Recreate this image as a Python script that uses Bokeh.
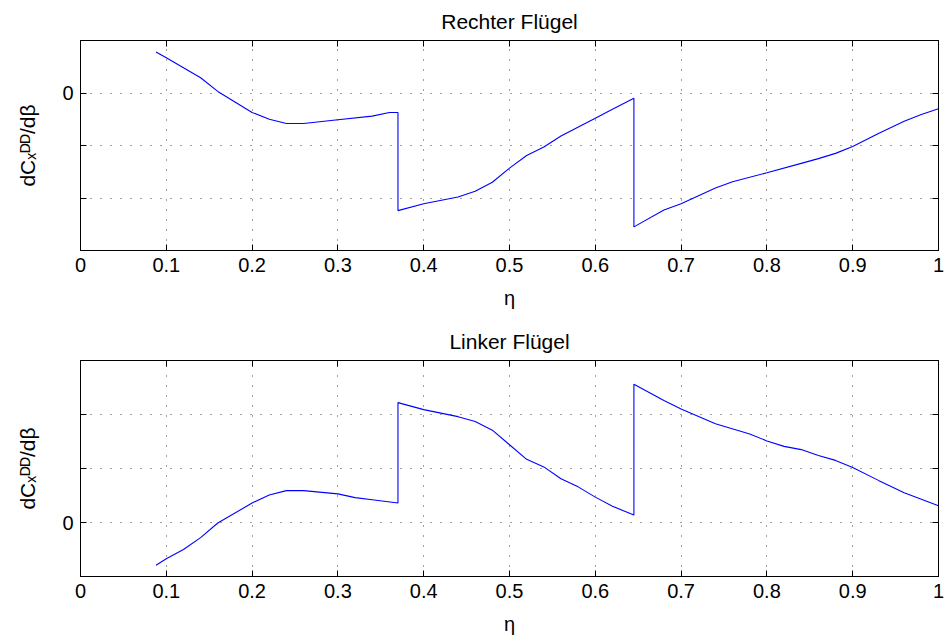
import numpy as np
from bokeh.plotting import figure
from bokeh.layouts import column
from bokeh.models import LinearAxis, FixedTicker, Range1d
from bokeh.embed import file_html
from bokeh.resources import INLINE

# ---------------- data ----------------
eta_right = [0.088, 0.10, 0.12, 0.14, 0.16, 0.20, 0.22, 0.24, 0.26, 0.30, 0.34, 0.36, 0.37,
             0.37, 0.40, 0.44, 0.46, 0.48, 0.50, 0.52, 0.54, 0.56, 0.60, 0.62, 0.645,
             0.645, 0.68, 0.70, 0.74, 0.76, 0.80, 0.84, 0.86, 0.88, 0.90, 0.93, 0.96, 0.98, 1.00]
dcx_right = [0.78, 0.67, 0.48, 0.29, 0.03, -0.37, -0.50, -0.58, -0.58, -0.51, -0.44, -0.37, -0.37,
             -2.24, -2.11, -1.98, -1.87, -1.70, -1.43, -1.19, -1.03, -0.82, -0.48, -0.31, -0.10,
             -2.55, -2.23, -2.11, -1.81, -1.69, -1.52, -1.34, -1.25, -1.15, -1.02, -0.77, -0.54, -0.41, -0.30]

eta_left = [0.088, 0.10, 0.12, 0.14, 0.16, 0.20, 0.22, 0.24, 0.26, 0.30, 0.32, 0.34, 0.37,
            0.37, 0.40, 0.44, 0.46, 0.48, 0.50, 0.52, 0.54, 0.56, 0.58, 0.60, 0.62, 0.645,
            0.645, 0.68, 0.70, 0.74, 0.78, 0.80, 0.82, 0.84, 0.86, 0.88, 0.90, 0.93, 0.96, 1.00]
dcx_left = [-0.79, -0.67, -0.50, -0.28, -0.01, 0.36, 0.51, 0.59, 0.59, 0.53, 0.46, 0.42, 0.36,
            2.22, 2.09, 1.96, 1.87, 1.71, 1.44, 1.17, 1.03, 0.81, 0.66, 0.47, 0.30, 0.14,
            2.56, 2.26, 2.10, 1.83, 1.64, 1.51, 1.41, 1.35, 1.24, 1.15, 1.02, 0.78, 0.55, 0.31]

x_ticks = [0, 0.1, 0.2, 0.3, 0.4, 0.5, 0.6, 0.7, 0.8, 0.9, 1]
x_tick_labels = ["0", "0.1", "0.2", "0.3", "0.4", "0.5", "0.6", "0.7", "0.8", "0.9", "1"]

y_ticks_right = [-2, -1, 0]
y_tick_labels_right = ["", "", "0"]
y_ticks_left = [0, 1, 2]
y_tick_labels_left = ["0", "", ""]

titles = ["Rechter Flügel", "Linker Flügel"]
x_label = "η"
y_label = "dCₓᴰᴰ/dβ"

FONT = "Liberation Sans"


def style_axis(ax, ticks, labels, standoff):
    ax.ticker = FixedTicker(ticks=ticks)
    ax.major_label_overrides = {t: l for t, l in zip(ticks, labels)}
    ax.major_tick_in = 6
    ax.major_tick_out = 0
    ax.minor_tick_line_color = None
    ax.axis_line_color = "black"
    ax.axis_line_width = 1
    ax.major_tick_line_color = "black"
    ax.major_label_text_font = FONT
    ax.major_label_text_font_size = "20px"
    ax.major_label_text_color = "black"
    ax.major_label_standoff = standoff


def make_panel(title, eta, vals, y_lo, y_hi, y_ticks, y_labels, height, b_top, b_bottom):
    p = figure(width=944, height=height, x_range=Range1d(0, 1), y_range=Range1d(y_lo, y_hi),
               output_backend="svg", toolbar_location=None,
               min_border_left=80, min_border_right=6,
               min_border_top=b_top, min_border_bottom=b_bottom)
    p.background_fill_color = "white"
    p.border_fill_color = "white"
    p.outline_line_color = "black"
    p.outline_line_width = 1

    p.title.text = title
    p.title.align = "center"
    p.title.text_font = FONT
    p.title.text_font_size = "21px"
    p.title.text_font_style = "normal"
    p.title.text_color = "black"
    p.title.standoff = 15

    style_axis(p.xaxis[0], x_ticks, x_tick_labels, 7)
    style_axis(p.yaxis[0], y_ticks, y_labels, 7)
    xa = p.xaxis[0]
    xa.axis_label = x_label
    xa.axis_label_text_font = FONT
    xa.axis_label_text_font_size = "20px"
    xa.axis_label_text_font_style = "normal"
    xa.axis_label_text_color = "black"
    xa.axis_label_standoff = 12

    ya = p.yaxis[0]
    ya.axis_label = y_label
    ya.axis_label_text_font = FONT
    ya.axis_label_text_font_size = "21px"
    ya.axis_label_text_font_style = "normal"
    ya.axis_label_text_color = "black"
    ya.axis_label_standoff = 20

    top_ax = LinearAxis()
    style_axis(top_ax, x_ticks, [""] * len(x_ticks), 0)
    right_ax = LinearAxis()
    style_axis(right_ax, y_ticks, [""] * len(y_ticks), 0)
    p.add_layout(top_ax, "above")
    p.add_layout(right_ax, "right")

    for g in (p.xgrid[0], p.ygrid[0]):
        g.grid_line_color = "black"
        g.grid_line_alpha = 0.75
        g.grid_line_width = 1
        g.grid_line_dash = "1 9"
    p.xgrid[0].ticker = FixedTicker(ticks=x_ticks)
    p.ygrid[0].ticker = FixedTicker(ticks=y_ticks)

    p.line(eta, vals, line_color="#0000ff", line_width=1.1)
    return p


H1, H2 = 320, 317
p1 = make_panel(titles[0], eta_right, dcx_right, -3, 1, y_ticks_right, y_tick_labels_right,
                H1, 40, 70)
p2 = make_panel(titles[1], eta_left, dcx_left, -1, 3, y_ticks_left, y_tick_labels_left,
                H2, 40, 61)

layout = column(p1, p2, spacing=0)
open("out.html", "w").write(file_html(layout, INLINE))
